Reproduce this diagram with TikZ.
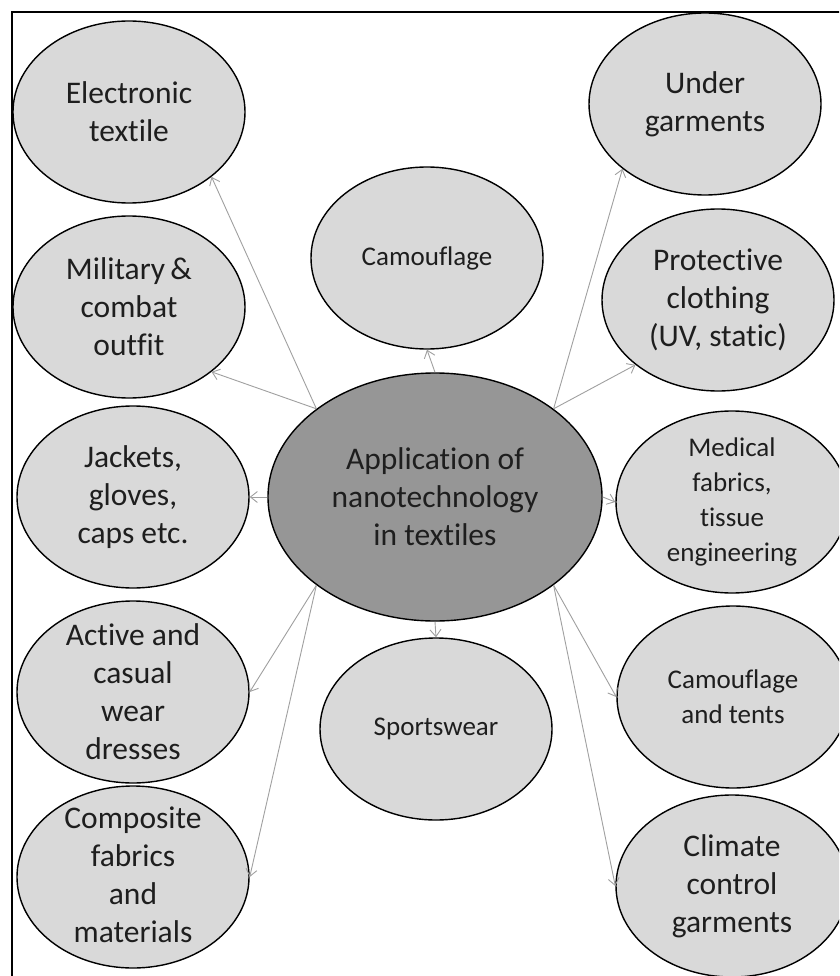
\documentclass[tikz,border=0pt]{standalone}
\usepackage{fontspec}
\setmainfont{Carlito}[Ligatures=NoCommon]
\usetikzlibrary{shapes.geometric,arrows.meta}
\definecolor{lightfill}{HTML}{D9D9D9}
\definecolor{darkfill}{HTML}{969696}
\definecolor{linegray}{HTML}{A0A0A0}
\definecolor{txt}{HTML}{1E1E1E}
\begin{document}
\begin{tikzpicture}[x=1pt,y=-1pt,
  ell/.style={ellipse,draw=black,line width=1.4pt,fill=lightfill,minimum width=232pt,minimum height=182pt,inner sep=0pt},
  big/.style={align=center,font=\fontsize{31.5}{38}\selectfont,text=txt,inner sep=0pt},
  small/.style={align=center,font=\fontsize{27}{35}\selectfont,text=txt,inner sep=0pt},
  conn/.style={draw=linegray,line width=0.9pt,-{Straight Barb[length=7pt,width=11pt]}}]
\clip (0,0) rectangle (839,976);
\fill[white] (0,0) rectangle (839,976);
\draw[line width=2.6pt] (12,12) rectangle (870,1010);

% outer ellipses
\node[ell] (elec) at (129,112) {};
\node[ell] (mil) at (129,307) {};
\node[ell] (jack) at (133,497) {};
\node[ell] (act) at (133,692) {};
\node[ell] (comp) at (133,877) {};
\node[ell] (camo) at (427,258) {};
\node[ell] (sport) at (436,729) {};
\node[ell] (under) at (705,104) {};
\node[ell] (prot) at (718,300) {};
\node[ell] (med) at (732,502) {};
\node[ell] (tents) at (733,697) {};
\node[ell] (clim) at (732,886) {};
\node[ellipse,draw=black,line width=1.4pt,fill=darkfill,minimum width=334pt,minimum height=248pt,inner sep=0pt] (cen) at (435,497) {};

% texts
\node[big] (telec) at (elec) {Electronic\\textile};
\node[big] (tmil) at (mil) {Military\,\&\\combat\\outfit};
\node[big] (tjack) at (jack) {Jackets,\\gloves,\\caps etc.};
\node[big] (tact) at (act) {Active and\\casual\\wear\\dresses};
\node[big] (tcomp) at ([yshift=2pt]comp) {Composite\\fabrics\\and\\materials};
\node[small] (tcamo) at (camo) {Camouflage};
\node[small] (tsport) at (sport) {Sportswear};
\node[big] (tunder) at (under) {Under\\garments};
\node[big] (tprot) at (prot) {Protective\\clothing\\(UV, static)};
\node[small] (tmed) at (med) {Medical\\fabrics,\\tissue\\engineering};
\node[small] (ttents) at (tents) {Camouflage\\and tents};
\node[big] (tclim) at (clim) {Climate\\control\\garments};
\node[big] (tcen) at (cen) {Application of\\nanotechnology\\in textiles};

% connectors
\draw[conn] (cen.north west) -- (elec.south east);
\draw[conn] (cen.north west) -- (mil.south east);
\draw[conn] (cen.west) -- (jack.east);
\draw[conn] (cen.south west) -- (act.east);
\draw[conn] (cen.south west) -- (comp.east);
\draw[conn] (cen.north) -- (camo.south);
\draw[conn] (cen.south) -- (sport.north);
\draw[conn] (cen.north east) -- (under.south west);
\draw[conn] (cen.north east) -- (prot.south west);
\draw[conn] (cen.east) -- (med.west);
\draw[conn] (cen.south east) -- (tents.west);
\draw[conn] (cen.south east) -- (clim.west);
\end{tikzpicture}
\end{document}
